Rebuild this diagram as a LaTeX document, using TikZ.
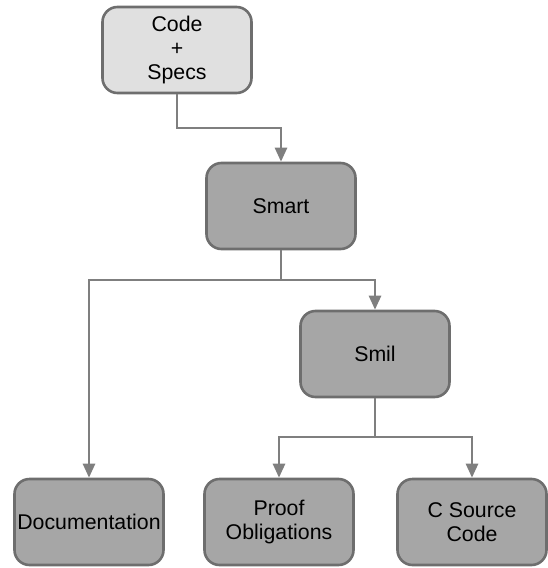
\documentclass[tikz,border=0pt]{standalone}
\usepackage{fontspec}
\setmainfont{Liberation Sans}
\usetikzlibrary{arrows.meta}
\definecolor{lightfill}{HTML}{E0E0E0}
\definecolor{darkfill}{HTML}{A6A6A6}
\definecolor{boxline}{HTML}{6E6E6E}
\definecolor{connline}{HTML}{7F7F7F}
\tikzset{
  box/.style={draw=boxline, line width=2.6pt, rounded corners=15pt, minimum width=149pt, minimum height=86pt, align=center, font=\fontsize{21.3}{24}\selectfont, inner sep=2pt},
  lightbox/.style={box, fill=lightfill},
  darkbox/.style={box, fill=darkfill},
  conn/.style={draw=connline, line width=2.6pt, -{Triangle[width=12pt,length=14pt]}}
}
\begin{document}
\begin{tikzpicture}[x=1pt,y=-1pt]
\useasboundingbox (0,0) rectangle (547,568);
\node[lightbox] (cs) at (177,50) {Code\\+\\Specs};
\node[darkbox] (smart) at (281,206) {Smart};
\node[darkbox] (smil) at (375,354) {Smil};
\node[darkbox] (doc) at (89,522) {Documentation};
\node[darkbox] (po) at (279,522) {Proof\\Obligations};
\node[darkbox] (csc) at (472,522) {C Source\\Code};
\coordinate (j1) at (177,128);
\coordinate (j2) at (281,280);
\coordinate (j3) at (375,437);
\draw[conn] (cs.south) -- (j1) -| (smart.north);
\draw[conn] (smart.south) -- (j2) -| (doc.north);
\draw[conn] (j2) -| (smil.north);
\draw[conn] (smil.south) -- (j3) -| (po.north);
\draw[conn] (j3) -| (csc.north);
\end{tikzpicture}
\end{document}
